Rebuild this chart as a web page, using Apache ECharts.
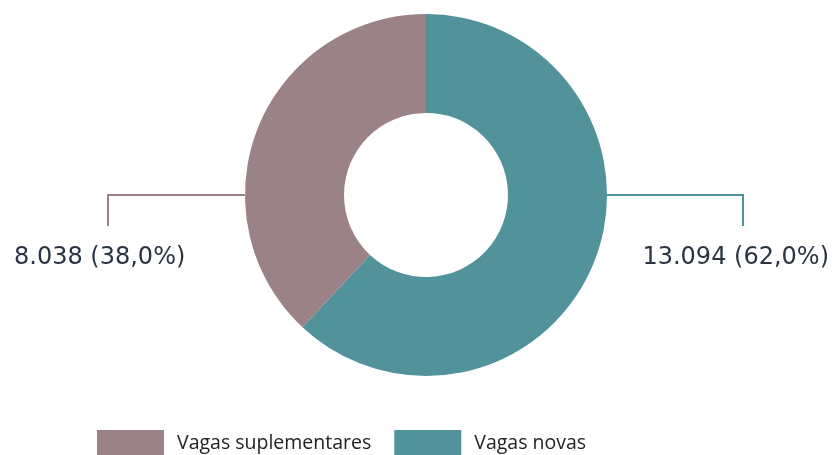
<!DOCTYPE html>
<html>
<head>
<meta charset="utf-8">
<script src="https://cdn.jsdelivr.net/npm/echarts@6/dist/echarts.min.js"></script>
<style>
    html, body { margin: 0; padding: 0; background: #fff; }
    #chart { width: 835px; height: 455px; }
</style>
</head>
<body>
<div id="chart"></div>
<script>
    var categories = ['Vagas novas', 'Vagas suplementares'];
    var values = [13094, 8038];
    var legendOrder = ['Vagas suplementares', 'Vagas novas'];
    var colors = ['#52939b', '#9a8287'];

    // donut geometry (px)
    var CX = 426, CY = 195, R_IN = 82, R_OUT = 181;

    function fmtThousands(v) {
        return String(v).replace(/\B(?=(\d{3})+(?!\d))/g, '.');
    }

    var chart = echarts.init(document.getElementById('chart'), null, {renderer: 'canvas'});

    chart.setOption({
        animation: false,
        color: colors,
        legend: {
            data: legendOrder,
            left: 97,
            top: 430,
            padding: 0,
            itemWidth: 67,
            itemHeight: 26,
            itemGap: 23,
            icon: 'rect',
            textStyle: {
                fontFamily: 'Open Sans',
                fontSize: 19.5,
                color: '#222',
                padding: [2, 0, 0, 8]
            }
        },
        series: [{
            type: 'pie',
            center: [CX, CY],
            radius: [R_IN, R_OUT],
            startAngle: 90,
            clockwise: true,
            data: categories.map(function (c, i) {
                return {name: c, value: values[i]};
            }),
            label: {
                show: true,
                position: 'outside',
                fontFamily: '"DejaVu Sans"',
                fontSize: 24,
                color: '#2b3442',
                formatter: function (p) {
                    return fmtThousands(p.value) + ' (' + p.percent.toFixed(1).replace('.', ',') + '%)';
                }
            },
            labelLine: {
                show: true,
                length: 20,
                length2: 20,
                lineStyle: {width: 2}
            },
            labelLayout: function (params) {
                var right = params.dataIndex === 0;
                if (right) {
                    return {
                        x: 829, y: 258, align: 'right', verticalAlign: 'middle',
                        labelLinePoints: [[CX + R_OUT, CY], [CX + R_OUT + 136, CY], [CX + R_OUT + 136, CY + 31]]
                    };
                }
                return {
                    x: 14, y: 258, align: 'left', verticalAlign: 'middle',
                    labelLinePoints: [[CX - R_OUT, CY], [CX - R_OUT - 137, CY], [CX - R_OUT - 137, CY + 31]]
                };
            }
        }]
    });
</script>
</body>
</html>
